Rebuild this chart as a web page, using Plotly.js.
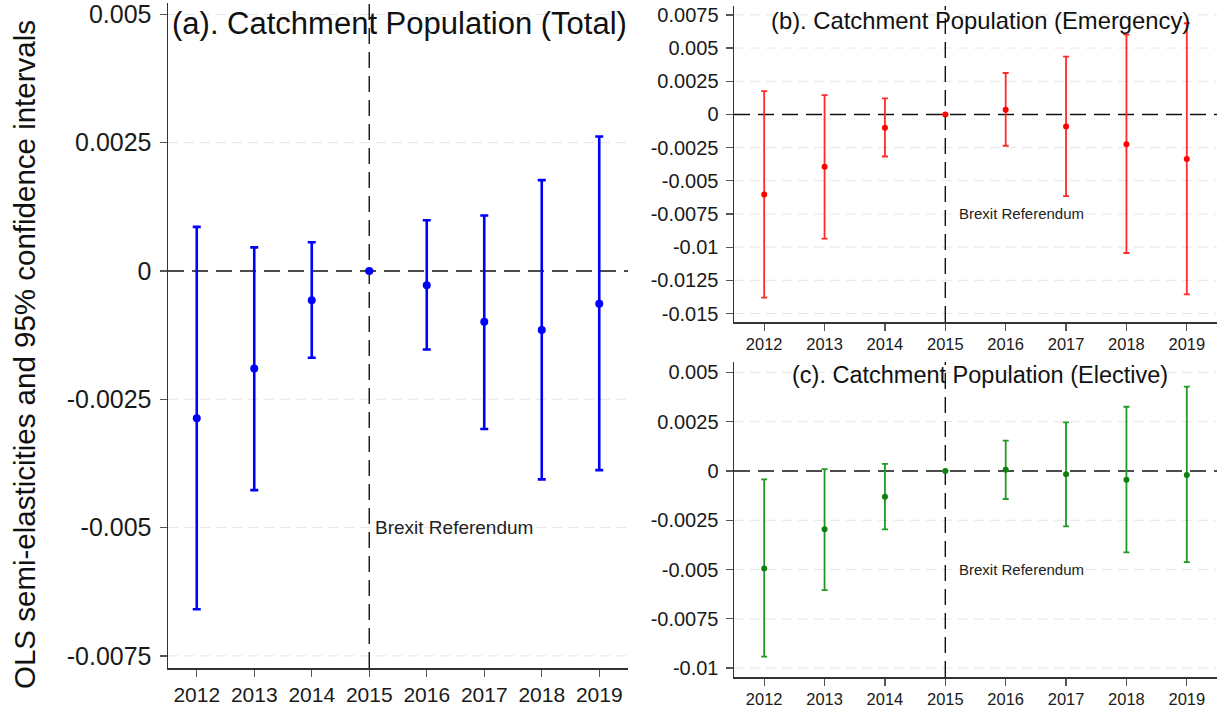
<!DOCTYPE html>
<html><head><meta charset="utf-8">
<script src="https://cdn.plot.ly/plotly-3.0.1.min.js"></script>
<style>html,body{margin:0;padding:0;background:#fff}#chart{width:1225px;height:710px}</style>
</head><body><div id="chart"></div>
<script>
// ---- data ----
const years = [2012, 2013, 2014, 2015, 2016, 2017, 2018, 2019];
const yearLabels = ["2012", "2013", "2014", "2015", "2016", "2017", "2018", "2019"];

// (a) Total
const estA  = [-0.00287, -0.00190, -0.00057, 0, -0.00028, -0.00099, -0.00115, -0.00064];
const lowA  = [-0.00659, -0.00427, -0.00169, 0, -0.00153, -0.00308, -0.00406, -0.00388];
const highA = [ 0.00086,  0.00046,  0.00056, 0,  0.00099,  0.00108,  0.00177,  0.00262];

// (b) Emergency
const estB  = [-0.00604, -0.00395, -0.00101, 0,  0.00035, -0.00091, -0.00224, -0.00335];
const lowB  = [-0.01380, -0.00936, -0.00317, 0, -0.00236, -0.00616, -0.01044, -0.01356];
const highB = [ 0.00176,  0.00146,  0.00121, 0,  0.00312,  0.00435,  0.00601,  0.00687];

// (c) Elective
const estC  = [-0.00494, -0.00296, -0.00130, 0,  0.00007, -0.00017, -0.00044, -0.00020];
const lowC  = [-0.00942, -0.00604, -0.00296, 0, -0.00142, -0.00281, -0.00413, -0.00462];
const highC = [-0.00042,  0.00010,  0.00036, 0,  0.00154,  0.00247,  0.00326,  0.00428];

const tickValsA = [0.005, 0.0025, 0, -0.0025, -0.005, -0.0075];
const tickTextA = ["0.005", "0.0025", "0", "-0.0025", "-0.005", "-0.0075"];
const tickValsB = [0.0075, 0.005, 0.0025, 0, -0.0025, -0.005, -0.0075, -0.01, -0.0125, -0.015];
const tickTextB = ["0.0075", "0.005", "0.0025", "0", "-0.0025", "-0.005", "-0.0075", "-0.01", "-0.0125", "-0.015"];
const tickValsC = [0.005, 0.0025, 0, -0.0025, -0.005, -0.0075, -0.01];
const tickTextC = ["0.005", "0.0025", "0", "-0.0025", "-0.005", "-0.0075", "-0.01"];

const titleA = "(a). Catchment Population (Total)";
const titleB = "(b). Catchment Population (Emergency)";
const titleC = "(c). Catchment Population (Elective)";
const yTitle = "OLS semi-elasticities and 95% confidence intervals";
const refLabel = "Brexit Referendum";
const refYear = 2015;

// ---- build ----
const FONT = "Liberation Sans, Arial, sans-serif";
function mkTrace(est, low, high, xa, ya, mColor, bColor, mSize, thick, capw) {
  return {
    x: years, y: est, xaxis: xa, yaxis: ya, type: 'scatter', mode: 'markers',
    marker: {color: mColor, size: mSize},
    error_y: {type: 'data', symmetric: false,
      array: high.map((h, i) => h - est[i]),
      arrayminus: est.map((e, i) => e - low[i]),
      color: bColor, thickness: thick, width: capw},
    showlegend: false, hoverinfo: 'x+y'
  };
}
const traces = [
  mkTrace(estA, lowA, highA, 'x', 'y', '#0000ff', '#0000ff', 8, 2.6, 4),
  mkTrace(estB, lowB, highB, 'x2', 'y2', '#ff0000', '#ff2a2a', 6, 1.8, 3),
  mkTrace(estC, lowC, highC, 'x3', 'y3', '#0f7f0f', '#229922', 6, 1.8, 3)
];

const W = 1225, H = 710;
function xdom(l, r) { return [l / W, r / W]; }
function ydom(t, b) { return [1 - b / H, 1 - t / H]; }

function xaxis(dom, anchor, fs) {
  return {domain: dom, anchor: anchor, range: [2011.5, 2019.5],
    tickmode: 'array', tickvals: years, ticktext: yearLabels,
    showgrid: false, zeroline: false, showline: true, linecolor: '#333', linewidth: 1.5,
    ticks: 'outside', ticklen: 7, tickwidth: 1.3, tickcolor: '#555',
    tickfont: {family: FONT, size: fs, color: '#1a1a1a'}, fixedrange: true};
}
function yaxis(dom, anchor, rng, tv, tt, fs) {
  return {domain: dom, anchor: anchor, range: rng,
    tickmode: 'array', tickvals: tv, ticktext: tt,
    showgrid: false, zeroline: false, showline: true, linecolor: '#333', linewidth: 1.5,
    ticks: 'outside', ticklen: 7, tickwidth: 1.3, tickcolor: '#555', ticklabelstandoff: 3,
    tickfont: {family: FONT, size: fs, color: '#1a1a1a'}, fixedrange: true};
}

const dashLine = {color: '#111', width: 1.4, dash: '16px,8px'};
const gridLine = {color: '#e6e6e6', width: 1, dash: '10px,6px'};
const shapes = [];
[['x', 'y', tickValsA], ['x2', 'y2', tickValsB], ['x3', 'y3', tickValsC]].forEach(([xa, ya, tv]) => {
  tv.filter(v => v !== 0).forEach(v => {
    shapes.push({type: 'line', xref: xa + ' domain', x0: 0, x1: 1, yref: ya, y0: v, y1: v, line: gridLine, layer: 'below'});
  });
  shapes.push({type: 'line', xref: xa + ' domain', x0: 0, x1: 1, yref: ya, y0: 0, y1: 0, line: dashLine, layer: 'below'});
  shapes.push({type: 'line', xref: xa, x0: refYear, x1: refYear, yref: ya + ' domain', y0: 0, y1: 1, line: dashLine, layer: 'below'});
});

const annotations = [
  {text: titleA, xref: 'paper', yref: 'paper', x: 399 / W, y: 1 - 24 / H, xanchor: 'center', yanchor: 'middle',
   showarrow: false, font: {family: FONT, size: 31, color: '#111'}},
  {text: titleB, xref: 'paper', yref: 'paper', x: 980 / W, y: 1 - 21 / H, xanchor: 'center', yanchor: 'middle',
   showarrow: false, font: {family: FONT, size: 23.8, color: '#111'}},
  {text: titleC, xref: 'paper', yref: 'paper', x: 980 / W, y: 1 - 375 / H, xanchor: 'center', yanchor: 'middle',
   showarrow: false, font: {family: FONT, size: 23.5, color: '#111'}},
  {text: yTitle, xref: 'paper', yref: 'paper', x: 24 / W, y: 1 - 355 / H, xanchor: 'center', yanchor: 'middle',
   textangle: -90, showarrow: false, font: {family: FONT, size: 29.5, color: '#111'}},
  {text: refLabel, xref: 'x', yref: 'y', x: refYear, y: -0.005, xanchor: 'left', yanchor: 'middle', xshift: 4,
   showarrow: false, font: {family: FONT, size: 19, color: '#222'}},
  {text: refLabel, xref: 'x2', yref: 'y2', x: refYear, y: -0.0075, xanchor: 'left', yanchor: 'middle', xshift: 12,
   showarrow: false, font: {family: FONT, size: 15, color: '#222'}},
  {text: refLabel, xref: 'x3', yref: 'y3', x: refYear, y: -0.005, xanchor: 'left', yanchor: 'middle', xshift: 12,
   showarrow: false, font: {family: FONT, size: 15, color: '#222'}}
];

const layout = {
  width: W, height: H, margin: {l: 0, r: 0, t: 0, b: 0},
  paper_bgcolor: '#fff', plot_bgcolor: '#fff',
  font: {family: FONT},
  xaxis: xaxis(xdom(168, 628), 'y', 21),
  yaxis: yaxis(ydom(3, 668), 'x', [-0.007736, 0.005222], tickValsA, tickTextA, 25),
  xaxis2: xaxis(xdom(734, 1217), 'y2', 16.5),
  yaxis2: yaxis(ydom(6, 322), 'x2', [-0.01564, 0.00817], tickValsB, tickTextB, 20),
  xaxis3: xaxis(xdom(734, 1217), 'y3', 16.5),
  yaxis3: yaxis(ydom(362, 677), 'x3', [-0.01045, 0.00553], tickValsC, tickTextC, 20),
  shapes: shapes, annotations: annotations
};

Plotly.newPlot('chart', traces, layout, {staticPlot: true, displayModeBar: false});
</script>
</body></html>
